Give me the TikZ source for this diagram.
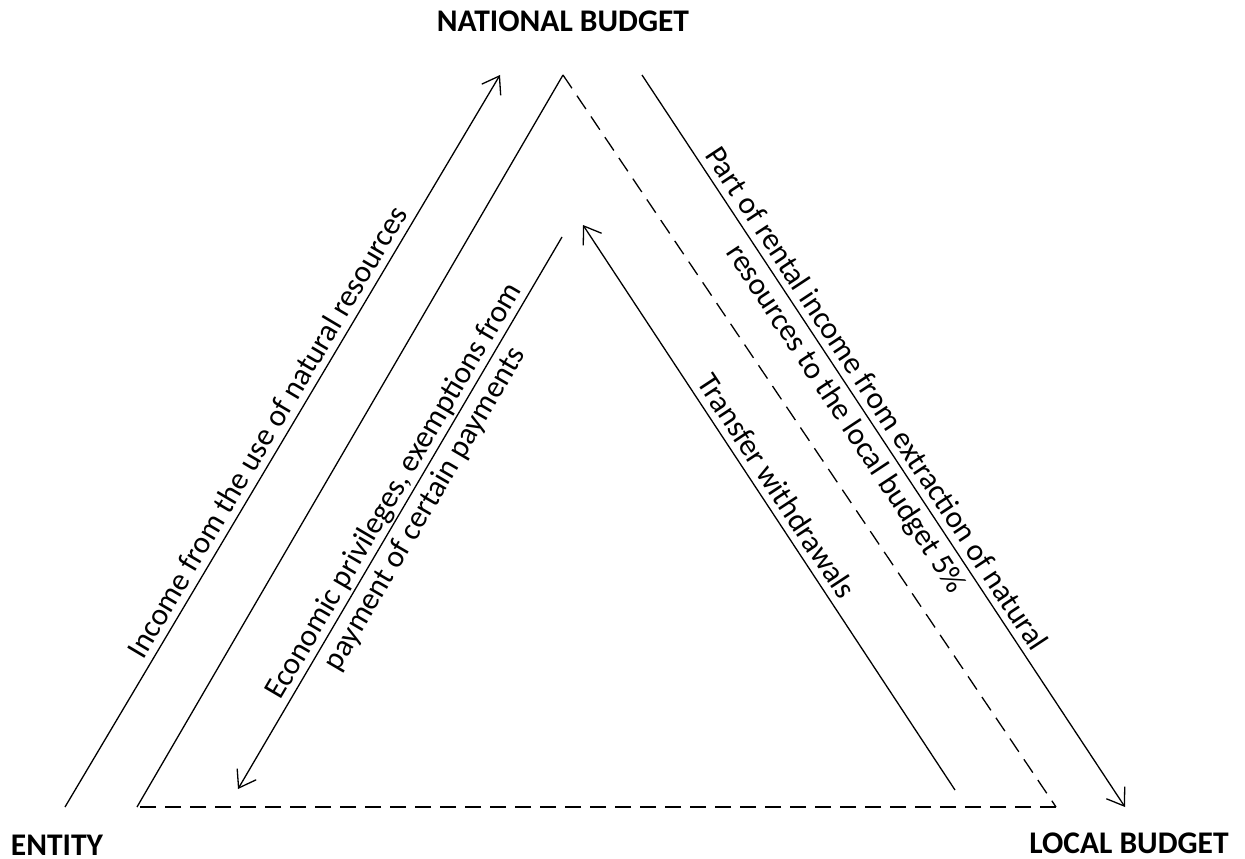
\documentclass[tikz,border=0pt]{standalone}
\usepackage{fontspec}
\setmainfont{Carlito}
\usetikzlibrary{arrows.meta}
\begin{document}
\begin{tikzpicture}[x=1pt,y=-1pt,
  >={Straight Barb[length=16pt,width=22pt]},
  conn/.style={line width=1.3pt, black},
  dsh/.style={conn, dash pattern=on 16pt off 9pt},
  lbl/.style={font=\fontsize{31}{37}\selectfont, sloped, inner sep=0pt},
  lblA/.style={lbl, text depth=0pt, above=7pt},
  lblB/.style={lbl, below=6pt},
  head/.style={font=\bfseries\fontsize{31.5}{37}\selectfont, anchor=base, inner sep=0pt}]
\useasboundingbox (0,0) rectangle (1245,859);
\fill[white] (0,0) rectangle (1245,859);

\coordinate (apex) at (563,75);
\coordinate (bl) at (137,807);
\coordinate (br) at (1056,807);
\coordinate (oL1) at (65,807);
\coordinate (oL2) at (500,75);
\coordinate (oR1) at (642,75);
\coordinate (oR2) at (1125,807);
\coordinate (iL1) at (562,237);
\coordinate (iL2) at (238,789);
\coordinate (iR1) at (955,790);
\coordinate (iR2) at (583,225);

% triangle
\draw[conn] (bl) -- (apex);
\draw[dsh] (apex) -- (br);
\draw[dsh] (br) -- (bl);

% outer left
\draw[conn,->] (oL1) -- node[lblA,pos=0.5] (tInc) {Income from the use of natural resources} (oL2);
% inner left
\draw[conn,<-] (iL2) -- node[lblA,pos=0.525] (tEco1) {Economic privileges, exemptions from}
                        node[lblB,pos=0.525] (tEco2) {payment of certain payments} (iL1);
% outer right
\draw[conn,->] (oR1) -- node[lblA,pos=0.455] (tPart1) {Part of rental income from extraction of natural}
                        node[lblB,pos=0.455] (tPart2) {resources to the local budget 5\%} (oR2);
% inner right
\draw[conn,<-] (iR2) -- node[lblA,pos=0.48] (tTr) {Transfer withdrawals} (iR1);

% headings
\node[head] (nb) at (563,32) {NATIONAL BUDGET};
\node[head] (en) at (57,855) {ENTITY};
\node[head] (lb) at (1129,853) {LOCAL BUDGET};
\end{tikzpicture}
\end{document}
